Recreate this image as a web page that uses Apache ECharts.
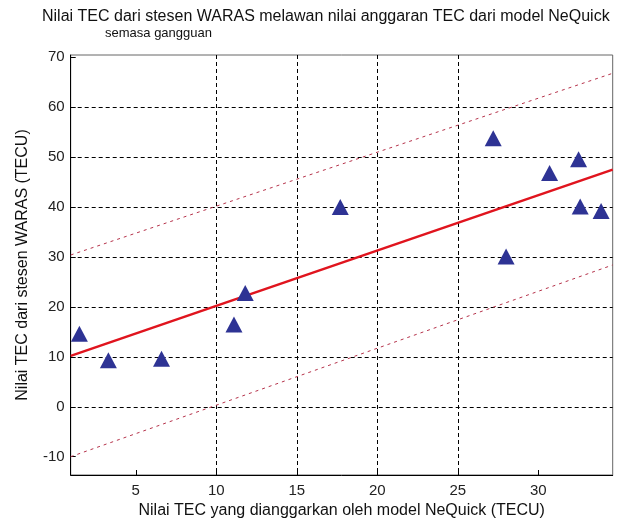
<!DOCTYPE html>
<html>
<head>
<meta charset="utf-8">
<script src="https://cdn.jsdelivr.net/npm/echarts@6/dist/echarts.min.js"></script>
<style>html,body{margin:0;padding:0;background:#fff}#c{width:643px;height:525px}</style>
</head>
<body>
<div id="c"></div>
<script>
// Observed data (NeQuick model TEC vs WARAS station TEC)
var modelTEC   = [1.5, 3.3, 6.6, 11.1, 11.8, 17.7, 27.2, 28.0, 30.7, 32.5, 32.6, 33.9];
var stationTEC = [14.6, 9.3, 9.6, 16.5, 22.8, 40.0, 53.8, 30.1, 46.8, 49.6, 40.1, 39.2];
// Regression line and bounds (end points)
var lineX  = [0.96, 34.62];
var fitY   = [10.2, 47.5];
var upperY = [30.4, 66.8];
var lowerY = [-10.0, 28.4];
var xTicks = [5, 10, 15, 20, 25, 30];
var yTicks = [-10, 0, 10, 20, 30, 40, 50, 60, 70];

var title1 = 'Nilai TEC dari stesen WARAS melawan nilai anggaran TEC dari model NeQuick';
var title2 = 'semasa gangguan';
var xName = 'Nilai TEC yang dianggarkan oleh model NeQuick (TECU)';
var yName = 'Nilai TEC dari stesen WARAS (TECU)';

function pairs(xs, ys) { return xs.map(function (x, i) { return [x, ys[i]]; }); }

var font = 'Liberation Sans, Arial, sans-serif';
var chart = echarts.init(document.getElementById('c'));
chart.setOption({
  backgroundColor: '#fff',
  animation: false,
  title: [
    { text: title1, left: 37, top: 4, textStyle: { fontFamily: font, fontSize: 16, fontWeight: 'normal', color: '#111' } },
    { text: title2, left: 100, top: 22, textStyle: { fontFamily: font, fontSize: 13, fontWeight: 'normal', color: '#111' } }
  ],
  grid: { left: 70.7, right: 30.3, top: 55, bottom: 50, show: true, borderColor: '#666', borderWidth: 1, backgroundColor: '#fff' },
  xAxis: {
    type: 'value', min: 0.96, max: 34.62,
    name: xName, nameLocation: 'middle', nameGap: 27,
    nameTextStyle: { fontFamily: font, fontSize: 16, color: '#111' },
    axisLine: { show: true, onZero: false, lineStyle: { color: '#000', width: 1 } },
    axisTick: { show: true, inside: true, length: 5, lineStyle: { color: '#000' }, customValues: xTicks },
    axisLabel: { fontFamily: font, fontSize: 15, color: '#222', margin: 8, customValues: xTicks },
    splitLine: { show: true, showMinLine: false, showMaxLine: false, lineStyle: { color: '#000', type: [4, 3], width: 1 } }
  },
  yAxis: {
    type: 'value', min: -13.67, max: 70.46,
    name: yName, nameLocation: 'middle', nameGap: 40,
    nameTextStyle: { fontFamily: font, fontSize: 16, color: '#111' },
    axisLine: { show: true, onZero: false, lineStyle: { color: '#000', width: 1 } },
    axisTick: { show: true, inside: true, length: 5, lineStyle: { color: '#000' }, customValues: yTicks },
    axisLabel: { fontFamily: font, fontSize: 15, color: '#222', margin: 6, customValues: yTicks },
    splitLine: { show: true, showMinLine: false, showMaxLine: false, lineStyle: { color: '#000', type: [4, 3], width: 1 } }
  },
  series: [
    { type: 'line', data: pairs(lineX, upperY), symbol: 'none', lineStyle: { color: '#b5324a', width: 1, type: [3, 4] }, z: 3 },
    { type: 'line', data: pairs(lineX, lowerY), symbol: 'none', lineStyle: { color: '#b5324a', width: 1, type: [3, 4] }, z: 3 },
    { type: 'line', data: pairs(lineX, fitY), symbol: 'none', lineStyle: { color: '#e0141e', width: 2.5 }, z: 4 },
    { type: 'scatter', data: pairs(modelTEC, stationTEC), symbol: 'triangle', symbolSize: [17, 16],
      itemStyle: { color: '#2e3394', opacity: 1 }, z: 5 }
  ]
});
</script>
</body>
</html>
